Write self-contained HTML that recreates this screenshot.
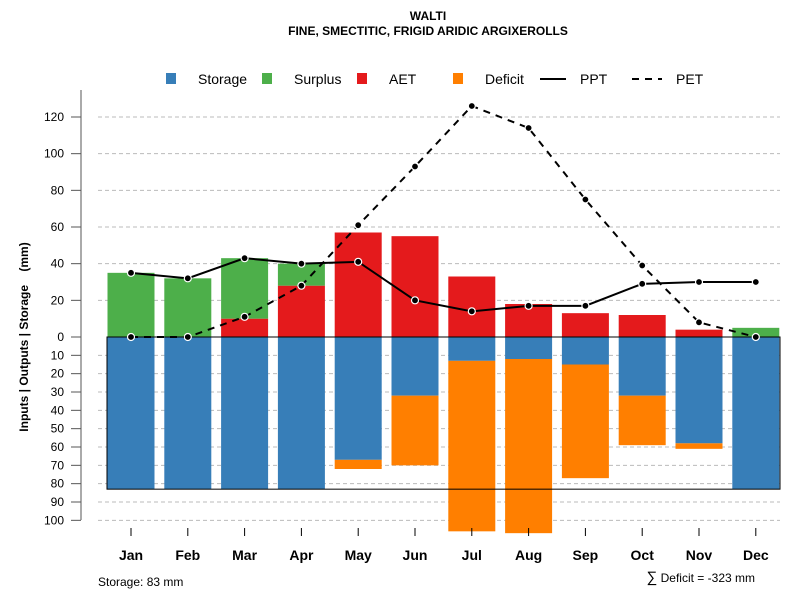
<!DOCTYPE html>
<html><head><meta charset="utf-8"><style>
body{margin:0;background:#fff;font-family:"Liberation Sans",sans-serif}
svg text{font-family:"Liberation Sans",sans-serif}
</style></head><body>
<svg id="c" width="800" height="600" xmlns="http://www.w3.org/2000/svg">
<text x="428" y="20" text-anchor="middle" font-size="12" font-weight="bold">WALTI</text>
<text x="428" y="35" text-anchor="middle" font-size="12" font-weight="bold">FINE, SMECTITIC, FRIGID ARIDIC ARGIXEROLLS</text>
<g id="grid"></g><g id="bars"></g><g id="lines"></g><g id="axes"></g>
<g font-size="14">
<rect x="166" y="73" width="10" height="11" fill="#377eb8"/><text x="198" y="84">Storage</text>
<rect x="262" y="73" width="10" height="11" fill="#4daf4a"/><text x="294" y="84">Surplus</text>
<rect x="357" y="73" width="10" height="11" fill="#e41a1c"/><text x="389" y="84">AET</text>
<rect x="453" y="73" width="10" height="11" fill="#ff7f00"/><text x="485" y="84">Deficit</text>
<line x1="540" y1="79" x2="566" y2="79" stroke="#000" stroke-width="2"/><text x="580" y="84">PPT</text>
<line x1="632" y1="79" x2="662" y2="79" stroke="#000" stroke-width="2" stroke-dasharray="7,6"/><text x="676" y="84">PET</text>
</g>
<text transform="translate(28,337) rotate(-90)" text-anchor="middle" font-size="12" font-weight="bold">Inputs | Outputs | Storage&#160;&#160;&#160;&#160;(mm)</text>
<text x="98" y="586" font-size="12">Storage: 83 mm</text>
<text x="755" y="582" text-anchor="end" font-size="12"><tspan font-size="15">∑</tspan> Deficit = -323 mm</text>
</svg>
<script>
const months=["Jan","Feb","Mar","Apr","May","Jun","Jul","Aug","Sep","Oct","Nov","Dec"];
const aet=[0,0,10,28,57,55,33,18,13,12,4,0];
const surplus=[35,32,33,12,0,0,0,0,0,0,0,5];
const storage=[83,83,83,83,67,32,13,12,15,32,58,83];
const deficit=[0,0,0,0,5,38,93,95,62,27,3,0];
const ppt=[35,32,43,40,41,20,14,17,17,29,30,30];
const pet=[0,0,11,28,61,93,126,114,75,39,8,0];
const topTicks=[0,20,40,60,80,100,120];
const botTicks=[10,20,30,40,50,60,70,80,90,100];
const NS="http://www.w3.org/2000/svg";
const y0=337,k=1.8333;
const yUp=v=>y0-v*k, yDn=v=>y0+v*k;
const xc=i=>131+i*56.8;
const bw=47;
function mk(p,t,a){const e=document.createElementNS(NS,t);for(const q in a)e.setAttribute(q,a[q]);document.getElementById(p).appendChild(e);return e;}
topTicks.slice(1).forEach(v=>{const e=mk("grid","line",{x1:98,x2:780,y1:yUp(v),y2:yUp(v),stroke:"#bbb","stroke-dasharray":"4,3"});

});
botTicks.forEach(v=>{const e=mk("grid","line",{x1:98,x2:780,y1:yDn(v),y2:yDn(v),stroke:"#bbb","stroke-dasharray":"4,3"});

});
months.forEach((m,i)=>{
 const x=xc(i)-bw/2;
 let r;
 if(aet[i]>0){r=mk("bars","rect",{x:x,width:bw,y:yUp(aet[i]),height:aet[i]*k,fill:"#e41a1c"});
 
 }
 if(surplus[i]>0){r=mk("bars","rect",{x:x,width:bw,y:yUp(aet[i]+surplus[i]),height:surplus[i]*k,fill:"#4daf4a"});
 
 }
 r=mk("bars","rect",{x:x,width:bw,y:y0,height:storage[i]*k,fill:"#377eb8"});
 
 
 if(deficit[i]>0){r=mk("bars","rect",{x:x,width:bw,y:yDn(storage[i]),height:deficit[i]*k,fill:"#ff7f00"});
 
 }
});
let box=mk("bars","rect",{x:107,y:y0,width:673,height:83*k,fill:"none",stroke:"#000","stroke-width":1});


function series(arr,name,dash){
 const pts=arr.map((v,i)=>xc(i)+","+yUp(v)).join(" ");
 const l=mk("lines","polyline",{points:pts,fill:"none",stroke:"#000","stroke-width":2,"stroke-dasharray":dash});
 
 
 arr.forEach((v,i)=>{const c=mk("lines","circle",{cx:xc(i),cy:yUp(v),r:3.5,fill:"#000",stroke:"#fff","stroke-width":1.2});
 
 });
}
series(pet,"pet","7,6");
series(ppt,"ppt","none");
let ax=mk("axes","line",{x1:81,x2:81,y1:90,y2:520,stroke:"#555"});


topTicks.forEach(v=>{mk("axes","line",{x1:71,x2:81,y1:yUp(v),y2:yUp(v),stroke:"#555"});
 const t=mk("axes","text",{x:64,y:yUp(v)+4,"text-anchor":"end","font-size":12});t.textContent=v;
 
 });
botTicks.forEach(v=>{mk("axes","line",{x1:71,x2:81,y1:yDn(v),y2:yDn(v),stroke:"#555"});
 const t=mk("axes","text",{x:64,y:yDn(v)+4,"text-anchor":"end","font-size":12});t.textContent=v;
 
 });
months.forEach((m,i)=>{mk("axes","line",{x1:xc(i),x2:xc(i),y1:528,y2:536,stroke:"#000"});
 const t=mk("axes","text",{x:xc(i),y:560,"text-anchor":"middle","font-size":14,"font-weight":"bold"});t.textContent=m;
 
 });
</script>
</body></html>
